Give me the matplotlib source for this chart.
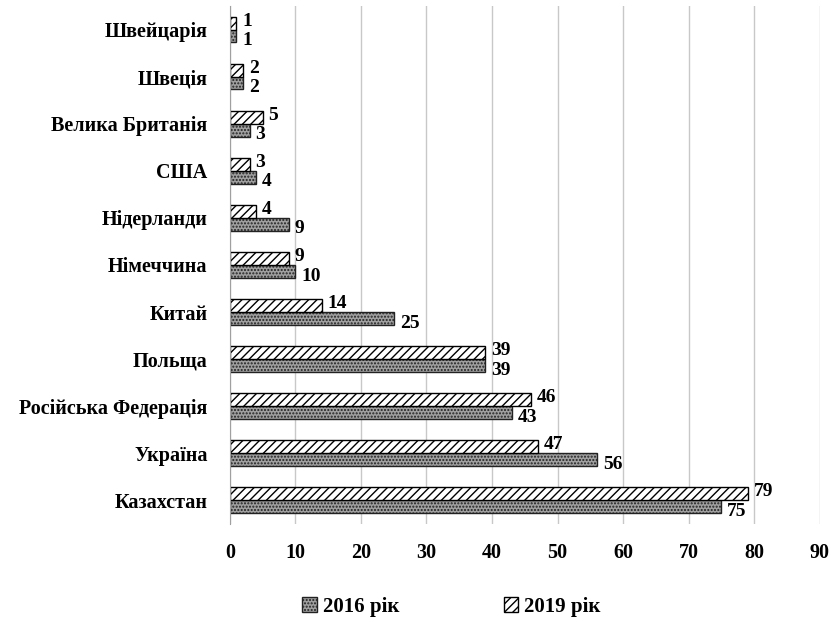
import matplotlib
matplotlib.use("Agg")
import matplotlib.pyplot as plt
import numpy as np

plt.rcParams['font.family'] = ['Liberation Serif', 'DejaVu Serif']
plt.rcParams['font.weight'] = 'bold'
plt.rcParams['hatch.linewidth'] = 1.0

# data (bottom to top)
countries = ['Казахстан', 'Україна', 'Російська Федерація', 'Польща', 'Китай',
             'Німеччина', 'Нідерланди', 'США', 'Велика Британія', 'Швеція', 'Швейцарія']
vals_2016 = [75, 56, 43, 39, 25, 10, 9, 4, 3, 2, 1]
vals_2019 = [79, 47, 46, 39, 14, 9, 4, 3, 5, 2, 1]

fig = plt.figure(figsize=(8.33, 6.22), dpi=100)
ax = fig.add_axes([0.276, 0.158, 0.708, 0.832])

y = np.arange(len(countries))
h = 0.27

plt.rcParams['hatch.color'] = '#404040'
b16 = ax.barh(y - h/2, vals_2016, height=h, facecolor='#a0a0a0', edgecolor='#222222',
              hatch='.....', linewidth=1.0, label='2016 рік')
b19 = ax.barh(y + h/2, vals_2019, height=h, facecolor='white', edgecolor='black',
              hatch='////', linewidth=1.0, label='2019 рік')

for yi, v in zip(y, vals_2016):
    ax.text(v + 0.9, yi - h/2 - 0.1, str(v), va='center', ha='left', fontsize=14, fontweight='bold')
for yi, v in zip(y, vals_2019):
    ax.text(v + 0.9, yi + h/2 + 0.05, str(v), va='center', ha='left', fontsize=14, fontweight='bold')

ax.set_xlim(0, 90)
ax.set_ylim(-0.5, len(countries) - 0.5)
ax.set_xticks(range(0, 91, 10))
ax.set_yticks(y)
ax.set_yticklabels(countries, fontsize=14.5, fontweight='bold')
ax.tick_params(axis='x', labelsize=14.5, length=0, pad=14)
ax.tick_params(axis='y', length=0, pad=16)
ax.grid(axis='x', color='#c8c8c8', linewidth=1.0)
ax.set_axisbelow(True)
for s in ['top', 'right', 'bottom']:
    ax.spines[s].set_visible(False)
ax.spines['left'].set_color('#a0a0a0')

fig.legend(handles=[b16, b19], loc='lower center', bbox_to_anchor=(0.542, -0.022), ncol=2,
           frameon=False, fontsize=15, columnspacing=5.0, handlelength=0.7, handleheight=0.7,
           handletextpad=0.3)

fig.savefig('out.png', dpi=100)
